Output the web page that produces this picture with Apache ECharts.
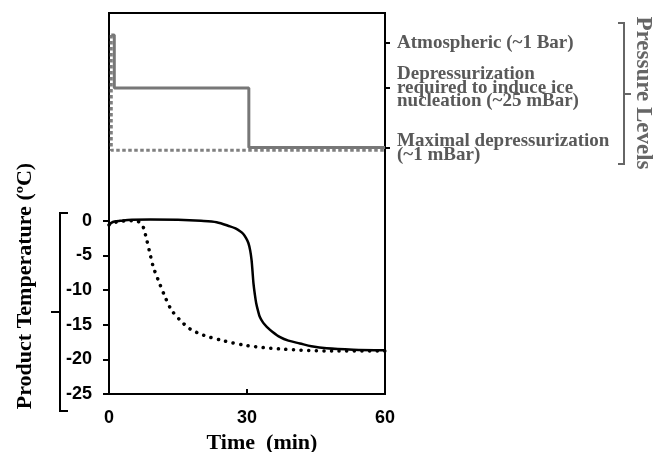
<!DOCTYPE html>
<html><head><meta charset="utf-8">
<script src="https://cdn.jsdelivr.net/npm/echarts@6/dist/echarts.min.js"></script>
<style>html,body{margin:0;padding:0;background:#fff}#c{width:654px;height:452px}</style>
</head><body><div id="c"></div><script>
// Tick labels
const timeTicks = [0, 30, 60];
const tempTicks = [-25, -20, -15, -10, -5, 0];
const pressureLevelValues = [92.2, 80.4, 64.6];
const pressureLevelLabels = [
  'Atmospheric (~1 Bar)',
  'Depressurization\nrequired to induce ice\nnucleation (~25 mBar)',
  'Maximal depressurization\n(~1 mBar)'
];
// Product temperature, controlled nucleation (solid)
const solidTime = [0, 0.5, 1.2, 2.4, 5, 9, 15, 20, 23.4, 26.3, 27.5, 28.5, 29.2, 29.8, 30.3, 30.7, 31.0, 31.2, 31.4, 31.7, 32.0, 32.4, 32.8, 33.5, 34.3, 35.5, 37.2, 39, 41.5, 44, 47.3, 53.1, 60];
const solidTemp = [-0.6, -0.3, -0.1, 0, 0.15, 0.2, 0.15, 0, -0.2, -0.8, -1.1, -1.5, -1.9, -2.5, -3.2, -4.3, -5.7, -7.3, -9.0, -10.6, -11.9, -13.0, -13.9, -14.7, -15.3, -16.0, -16.8, -17.3, -17.7, -18.1, -18.4, -18.6, -18.7];
// Product temperature, uncontrolled (dotted)
const dotTime = [0, 0.5, 1.5, 2.4, 4, 5.3, 6.3, 7.0, 7.5, 8.2, 8.9, 9.6, 10.7, 12.2, 13.6, 15.4, 17.6, 20.5, 24.8, 29.9, 37.2, 48.7, 60];
const dotTemp = [-0.6, -0.4, -0.2, -0.1, 0, 0, -0.1, -0.4, -1.0, -2.75, -4.7, -6.6, -8.55, -11.0, -12.9, -14.3, -15.6, -16.5, -17.3, -18.0, -18.5, -18.8, -18.8];
// Pressure levels (right axis, arbitrary level units)
const pressSolidTime = [0.5, 1.15, 1.15, 30.4, 30.4, 60];
const pressSolidLevel = [94.2, 94.2, 80.3, 80.3, 64.7, 64.7];
const pressDotTime = [0.5, 0.5, 60];
const pressDotLevel = [94.2, 64.0, 64.0];

const zip = (a, b) => a.map((v, i) => [v, b[i]]);
const serif = 'Liberation Serif';
const sans = 'Liberation Sans';

const chart = echarts.init(document.getElementById('c'), null, {renderer: 'canvas'});
chart.setOption({
  animation: false,
  backgroundColor: '#fff',
  grid: {left: 109, right: 269, top: 13, bottom: 58, show: true, borderColor: '#000', borderWidth: 2,
    containLabel: false, outerBoundsMode: 'none'},
  xAxis: {
    type: 'value', min: 0, max: 60, interval: 30,
    name: 'Time  (min)', nameLocation: 'middle', nameGap: 36,
    nameTextStyle: {fontFamily: serif, fontWeight: 'bold', fontSize: 22, color: '#000', padding: [0, 0, 0, 30]},
    axisLine: {onZero: false, lineStyle: {color: '#000', width: 2}},
    axisTick: {show: true, inside: true, length: 5, lineStyle: {color: '#000', width: 2}},
    axisLabel: {fontFamily: sans, fontWeight: 'bold', fontSize: 18, color: '#000', margin: 15,
      customValues: timeTicks},
    splitLine: {show: false}
  },
  yAxis: [{
    type: 'value', min: -25, max: 30, position: 'left',
    axisLine: {show: true, onZero: false, lineStyle: {color: '#000', width: 2}},
    axisTick: {show: true, length: 6, lineStyle: {color: '#000', width: 2}, customValues: tempTicks},
    axisLabel: {fontFamily: sans, fontWeight: 'bold', fontSize: 18, color: '#000', margin: 17,
      customValues: tempTicks},
    splitLine: {show: false}
  }, {
    type: 'value', min: 0, max: 100, position: 'right',
    axisLine: {show: true, onZero: false, lineStyle: {color: '#000', width: 2}},
    axisTick: {show: true, length: 5, lineStyle: {color: '#000', width: 2}, customValues: pressureLevelValues},
    axisLabel: {
      fontFamily: serif, fontWeight: 'bold', fontSize: 19, lineHeight: 13.5, color: '#595959', margin: 12,
      align: 'left', customValues: pressureLevelValues,
      formatter: v => {
        let best = 0;
        pressureLevelValues.forEach((p, i) => { if (Math.abs(p - v) < Math.abs(pressureLevelValues[best] - v)) best = i; });
        return pressureLevelLabels[best];
      }
    },
    splitLine: {show: false}
  }],
  series: [
    {type: 'line', yAxisIndex: 1, data: zip(pressDotTime, pressDotLevel), symbol: 'none',
      lineStyle: {color: '#808080', width: 3, type: [3.5, 2.5]}},
    {type: 'line', yAxisIndex: 1, data: zip(pressSolidTime, pressSolidLevel), symbol: 'none',
      lineStyle: {color: '#777', width: 3}},
    {type: 'line', yAxisIndex: 0, data: zip(dotTime, dotTemp), symbol: 'none', smooth: 0.3,
      lineStyle: {color: '#000', width: 3.5, type: [0.1, 7.5], cap: 'round'}},
    {type: 'line', yAxisIndex: 0, data: zip(solidTime, solidTemp), symbol: 'none', smooth: 0.3,
      lineStyle: {color: '#000', width: 2.5}}
  ],
  graphic: [
    {type: 'polyline', shape: {points: [[68, 213], [60, 213], [60, 411], [68, 411]]}, style: {stroke: '#000', lineWidth: 2, fill: null}},
    {type: 'line', shape: {x1: 51, y1: 312, x2: 60, y2: 312}, style: {stroke: '#000', lineWidth: 2}},
    {type: 'polyline', shape: {points: [[618, 23], [624, 23], [624, 164], [618, 164]]}, style: {stroke: '#666', lineWidth: 2, fill: null}},
    {type: 'line', shape: {x1: 624, y1: 94, x2: 631, y2: 94}, style: {stroke: '#666', lineWidth: 2}},
    {type: 'text', x: 25, y: 286, rotation: Math.PI / 2,
      style: {text: 'Product Temperature (ºC)', font: 'bold 22px "Liberation Serif"', fill: '#000', align: 'center', verticalAlign: 'middle'}},
    {type: 'text', x: 643, y: 93, rotation: -Math.PI / 2,
      style: {text: 'Pressure Levels', font: 'bold 23px "Liberation Serif"', fill: '#666', align: 'center', verticalAlign: 'middle'}}
  ]
});
</script></body></html>
